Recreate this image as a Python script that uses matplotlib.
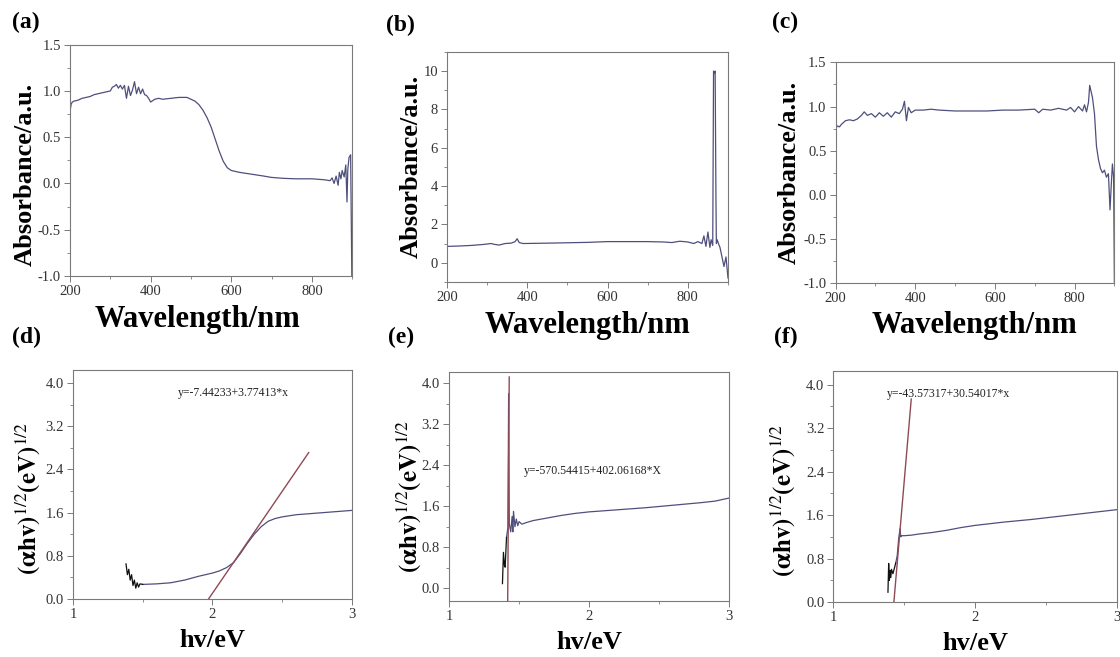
import matplotlib
matplotlib.use("Agg")
import matplotlib.pyplot as plt
from matplotlib.ticker import MultipleLocator, AutoMinorLocator

plt.rcParams['font.family'] = ['Liberation Serif', 'DejaVu Serif']
plt.rcParams['mathtext.fontset'] = 'stix'
plt.rcParams['axes.unicode_minus'] = False

# ---- data ----
# (a) absorbance spectrum
wl_a = [200, 203, 206, 210, 220, 230, 240, 250, 260, 270, 280, 290, 300, 305, 310, 315,
        320, 325, 330, 335, 340, 345, 350, 355, 360, 365, 370, 375, 380, 385, 390, 395,
        400, 410, 420, 430, 450, 470, 490, 500, 510, 520, 530, 540, 550, 560, 570, 580,
        590, 600, 620, 650, 680, 700, 730, 760, 800, 830, 845, 850, 855, 860, 865, 868,
        872, 875, 880, 884, 887, 889, 892, 896, 899]
abs_a = [0.78, 0.86, 0.88, 0.89, 0.90, 0.92, 0.93, 0.94, 0.96, 0.97, 0.98, 0.99, 1.00, 1.04, 1.05, 1.07,
         1.03, 1.06, 1.02, 1.06, 0.92, 1.05, 0.95, 1.01, 1.10, 0.97, 1.04, 0.97, 1.02, 0.96, 0.95, 0.92,
         0.88, 0.91, 0.92, 0.91, 0.92, 0.93, 0.93, 0.91, 0.89, 0.85, 0.79, 0.71, 0.61, 0.48, 0.35, 0.24,
         0.17, 0.14, 0.12, 0.10, 0.08, 0.065, 0.055, 0.05, 0.05, 0.04, 0.03, 0.06, 0.00, 0.08, -0.02, 0.12,
         0.05, 0.14, 0.07, 0.20, -0.20, 0.15, 0.28, 0.31, -1.0]

# (b) absorbance spectrum with sharp spike
wl_b = [200, 230, 260, 290, 310, 320, 330, 345, 360, 370, 375, 380, 390, 420, 450, 500,
        550, 600, 650, 700, 740, 760, 780, 800, 815, 825, 835, 840, 845, 850, 855, 858,
        862, 864, 866, 868, 870, 871, 873, 877, 880, 885, 890, 895, 900]
abs_b = [0.85, 0.87, 0.90, 0.95, 1.00, 0.95, 0.92, 1.00, 1.02, 1.10, 1.25, 1.05, 1.00, 1.01, 1.02, 1.04,
         1.06, 1.10, 1.10, 1.10, 1.08, 1.05, 1.12, 1.08, 1.00, 1.10, 1.00, 1.40, 0.85, 1.60, 0.80, 1.20,
         0.90, 10.0, 9.9, 10.0, 3.3, 1.0, 1.20, 0.95, 0.80, 0.30, -0.20, 0.30, -0.80]

# (c) absorbance spectrum
wl_c = [200, 205, 210, 215, 225, 235, 245, 255, 265, 272, 280, 290, 300, 310, 320, 330,
        340, 350, 360, 368, 373, 378, 383, 390, 400, 420, 440, 460, 500, 540, 580, 620,
        660, 700, 710, 720, 740, 760, 780, 790, 800, 810, 820, 825, 830, 835, 838, 845,
        850, 855, 860, 865, 870, 875, 880, 885, 889, 892, 895, 898, 900]
abs_c = [0.75, 0.78, 0.77, 0.80, 0.84, 0.85, 0.84, 0.86, 0.90, 0.94, 0.90, 0.92, 0.88, 0.93, 0.89, 0.93,
         0.88, 0.94, 0.92, 0.97, 1.06, 0.84, 0.99, 0.93, 0.96, 0.96, 0.97, 0.96, 0.95, 0.95, 0.95, 0.96,
         0.96, 0.97, 0.93, 0.97, 0.96, 0.98, 0.96, 0.99, 0.94, 1.00, 0.95, 1.02, 0.94, 1.05, 1.24, 1.10,
         0.92, 0.55, 0.40, 0.30, 0.25, 0.28, 0.20, 0.24, -0.17, 0.10, 0.35, 0.20, -1.0]

# (d) Tauc plot
ev_d = [1.38, 1.39, 1.40, 1.41, 1.42, 1.43, 1.44, 1.45, 1.46, 1.47, 1.48, 1.50, 1.60, 1.70,
        1.80, 1.90, 2.00, 2.05, 2.10, 2.15, 2.20, 2.25, 2.30, 2.35, 2.40, 2.45, 2.50, 2.60,
        2.70, 2.80, 2.90, 3.00]
tauc_d = [0.65, 0.45, 0.55, 0.35, 0.45, 0.25, 0.35, 0.20, 0.30, 0.22, 0.28, 0.27, 0.28, 0.30,
          0.35, 0.42, 0.48, 0.52, 0.58, 0.67, 0.84, 1.03, 1.20, 1.34, 1.44, 1.49, 1.52, 1.56,
          1.58, 1.60, 1.62, 1.64]

# (e) Tauc plot
ev_e = [1.381, 1.388, 1.395, 1.40, 1.41, 1.42, 1.425, 1.43, 1.44, 1.45, 1.455, 1.46, 1.47,
        1.48, 1.49, 1.50, 1.52, 1.55, 1.60, 1.70, 1.80, 1.90, 2.00, 2.20, 2.40, 2.60, 2.80,
        2.90, 3.00]
tauc_e = [0.09, 0.70, 0.45, 0.41, 0.99, 1.19, 3.80, 1.25, 1.10, 1.40, 1.10, 1.50, 1.20,
          1.35, 1.22, 1.30, 1.25, 1.28, 1.32, 1.37, 1.42, 1.46, 1.49, 1.53, 1.57, 1.62, 1.67,
          1.70, 1.76]

# (f) Tauc plot
ev_f = [1.385, 1.39, 1.395, 1.40, 1.405, 1.41, 1.42, 1.43, 1.44, 1.45, 1.46, 1.47, 1.475,
        1.48, 1.50, 1.55, 1.60, 1.70, 1.80, 1.90, 2.00, 2.20, 2.40, 2.60, 2.80, 3.00]
tauc_f = [0.18, 0.71, 0.40, 0.58, 0.45, 0.60, 0.52, 0.62, 0.72, 0.85, 1.15, 1.35, 1.20,
          1.22, 1.22, 1.23, 1.25, 1.28, 1.32, 1.37, 1.41, 1.47, 1.52, 1.58, 1.64, 1.70]

# linear fits: (intercept, slope, x range, label)
fit_d = (-7.44233, 3.77413, (1.972, 2.69), 'y=-7.44233+3.77413*x')
fit_e = (-570.54415, 402.06168, (1.4184, 1.4293), 'y=-570.54415+402.06168*X')
fit_f = (-43.57317, 30.54017, (1.4268, 1.549), 'y=-43.57317+30.54017*x')

curve_col = '#4f4f7d'
fit_col = '#8e4a55'
spine_col = '#7a7a7a'
tick_col = '#333333'

W, H = 1120, 657


def style_axis(ax):
    for s in ax.spines.values():
        s.set_color(spine_col)
        s.set_linewidth(0.8)
    ax.tick_params(which='both', direction='out', top=False, right=False,
                   colors=spine_col, labelcolor=tick_col, labelsize=10.5)
    ax.tick_params(which='major', length=4, width=0.7, pad=2.5)
    ax.tick_params(which='minor', length=2, width=0.6)
    ax.xaxis.set_minor_locator(AutoMinorLocator(2))
    ax.yaxis.set_minor_locator(AutoMinorLocator(2))


def tag(px, py, text):
    fig.text(px / W, 1 - py / H, text, fontsize=17, fontweight='bold', va='center')


def plot_spectrum(rect, x, y, ylim, ystep, fmt, xlab_x, ylab_xy):
    ax = fig.add_axes(rect)
    ax.plot(x, y, color=curve_col, lw=0.9)
    ax.set_xlim(200, 900)
    ax.set_ylim(*ylim)
    ax.xaxis.set_major_locator(MultipleLocator(200))
    ax.yaxis.set_major_locator(MultipleLocator(ystep))
    ax.yaxis.set_major_formatter(fmt)
    style_axis(ax)
    ax.set_xlabel('Wavelength/nm', fontsize=22, fontweight='bold')
    ax.set_ylabel('Absorbance/a.u.', fontsize=19, fontweight='bold')
    ax.xaxis.set_label_coords(xlab_x, -0.125)
    ax.yaxis.set_label_coords(*ylab_xy)
    return ax


def plot_tauc(rect, x, y, fit, ylim, n_black, text_xy, ylab_xy):
    ax = fig.add_axes(rect)
    ax.plot(x[n_black - 1:], y[n_black - 1:], color=curve_col, lw=0.9)
    ax.plot(x[:n_black], y[:n_black], color='#111111', lw=0.9)
    b, k, (x0, x1), label = fit
    ax.plot([x0, x1], [b + k * x0, b + k * x1], color=fit_col, lw=1.0)
    ax.text(text_xy[0], text_xy[1], label, fontsize=8.5, color='#222222', va='center')
    ax.set_xlim(1, 3)
    ax.set_ylim(*ylim)
    ax.xaxis.set_major_locator(MultipleLocator(1))
    ax.yaxis.set_major_locator(MultipleLocator(0.8))
    ax.yaxis.set_major_formatter('{x:.1f}')
    style_axis(ax)
    ax.set_xlabel('hv/eV', fontsize=19, fontweight='bold')
    ax.set_ylabel(r'$\mathbf{(\alpha hv)}^{1/2}\mathbf{(eV)}^{1/2}$', fontsize=18)
    ax.xaxis.set_label_coords(0.5, -0.13)
    ax.yaxis.set_label_coords(*ylab_xy)
    return ax


fig = plt.figure(figsize=(11.2, 6.57), dpi=100)

plot_spectrum([0.0625, 0.580, 0.252, 0.352], wl_a, abs_a, (-1.0, 1.5), 0.5, '{x:.1f}', 0.45, (-0.118, 0.44))
plot_spectrum([0.399, 0.571, 0.251, 0.350], wl_b, abs_b, (-1.0, 11.0), 2, '{x:.0f}', 0.5, (-0.085, 0.5))
plot_spectrum([0.746, 0.569, 0.249, 0.336], wl_c, abs_c, (-1.0, 1.5), 0.5, '{x:.1f}', 0.5, (-0.125, 0.5))

plot_tauc([0.0652, 0.0883, 0.249, 0.3486], ev_d, tauc_d, fit_d, (0, 4.24), 12, (1.75, 3.81), (-0.11, 0.44))
plot_tauc([0.401, 0.0852, 0.250, 0.3486], ev_e, tauc_e, fit_e, (-0.25, 4.22), 5, (1.536, 2.28), (-0.093, 0.455))
plot_tauc([0.744, 0.0837, 0.2536, 0.3516], ev_f, tauc_f, fit_f, (0, 4.25), 9, (1.38, 3.82), (-0.127, 0.44))

tag(12, 22, '(a)')
tag(386, 25, '(b)')
tag(772, 22, '(c)')
tag(12, 337, '(d)')
tag(388, 337, '(e)')
tag(774, 337, '(f)')

fig.savefig('out.png', dpi=100)
